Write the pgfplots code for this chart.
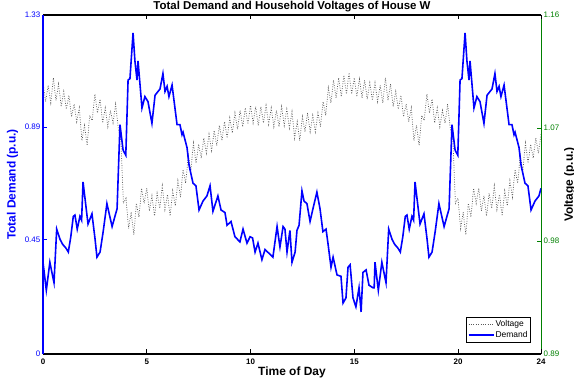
\documentclass[border=0pt]{standalone}
\usepackage{pgfplots}
\pgfplotsset{compat=1.18}
\usepackage{fontspec}
\setmainfont{Liberation Sans}

\definecolor{dmdblue}{RGB}{0,0,255}
\definecolor{voltgreen}{RGB}{0,128,0}
\definecolor{voltgray}{RGB}{90,90,90}

\pgfplotsset{
  legend image code/.code={\draw[#1] (0bp,0bp) -- (25bp,0bp);},
  voltstyle/.style={voltgray, line width=0.75pt, dash pattern=on 0.8pt off 1.6pt},
  dmdstyle/.style={dmdblue, line width=1.6pt},
}

\begin{document}
\begin{tikzpicture}
% Voltage axis (right)
\begin{axis}[
  scale only axis, width=498bp, height=339bp,
  xmin=0, xmax=24, ymin=0.89, ymax=1.16,
  axis x line=none, axis y line*=right,
  y axis line style={voltgreen, line width=1pt, -},
  ytick={0.89,0.98,1.07,1.16},
  yticklabels={0.89,0.98,1.07,1.16},
  yticklabel style={voltgreen, font=\fontsize{8}{9}\selectfont, inner sep=2.5bp},
  ytick style={voltgreen, line width=0.8pt},
  major tick length=4.5bp, tick align=inside,
  ylabel={\bfseries Voltage (p.u.)},
  ylabel style={at={(axis description cs:1.058,0.5)}, anchor=center, inner sep=0pt, black, font=\fontsize{12}{14}\selectfont},
]
\addplot[voltstyle] coordinates {
(0.000,1.106)(0.125,1.091)(0.250,1.104)(0.375,1.090)(0.500,1.110)(0.625,1.092)(0.750,1.105)(0.875,1.087)
(1.000,1.099)(1.125,1.085)(1.250,1.096)(1.375,1.079)(1.500,1.089)(1.625,1.075)(1.750,1.086)(1.875,1.060)
(2.000,1.072)(2.125,1.056)(2.250,1.080)(2.375,1.076)(2.500,1.097)(2.625,1.082)(2.750,1.093)(2.875,1.074)
(3.000,1.086)(3.125,1.071)(3.250,1.084)(3.375,1.074)(3.500,1.089)(3.625,1.070)(3.750,1.062)(3.875,1.010)
(4.000,1.014)(4.125,0.990)(4.250,1.003)(4.375,0.985)(4.500,1.010)(4.625,0.999)(4.750,1.022)(4.875,1.010)
(5.000,1.022)(5.125,1.004)(5.250,1.016)(5.375,1.000)(5.500,1.018)(5.625,1.006)(5.750,1.024)(5.875,1.005)
(6.000,1.017)(6.125,1.000)(6.250,1.020)(6.375,1.008)(6.500,1.028)(6.625,1.015)(6.750,1.037)(6.875,1.026)
(7.000,1.048)(7.125,1.036)(7.250,1.058)(7.375,1.042)(7.500,1.057)(7.625,1.046)(7.750,1.062)(7.875,1.050)
(8.000,1.065)(8.125,1.052)(8.250,1.068)(8.375,1.056)(8.500,1.072)(8.625,1.060)(8.750,1.075)(8.875,1.062)
(9.000,1.078)(9.125,1.066)(9.250,1.082)(9.375,1.069)(9.500,1.084)(9.625,1.071)(9.750,1.086)(9.875,1.073)
(10.000,1.088)(10.125,1.074)(10.250,1.087)(10.375,1.072)(10.500,1.087)(10.625,1.074)(10.750,1.088)(10.875,1.073)
(11.000,1.086)(11.125,1.071)(11.250,1.084)(11.375,1.071)(11.500,1.087)(11.625,1.072)(11.750,1.085)(11.875,1.070)
(12.000,1.083)(12.125,1.062)(12.250,1.075)(12.375,1.060)(12.500,1.079)(12.625,1.067)(12.750,1.082)(12.875,1.067)
(13.000,1.080)(13.125,1.067)(13.250,1.082)(13.375,1.071)(13.500,1.091)(13.625,1.080)(13.750,1.102)(13.875,1.090)
(14.000,1.108)(14.125,1.094)(14.250,1.110)(14.375,1.095)(14.500,1.112)(14.625,1.097)(14.750,1.114)(14.875,1.097)
(15.000,1.110)(15.125,1.095)(15.250,1.109)(15.375,1.094)(15.500,1.108)(15.625,1.093)(15.750,1.106)(15.875,1.092)
(16.000,1.106)(16.125,1.091)(16.250,1.104)(16.375,1.090)(16.500,1.110)(16.625,1.092)(16.750,1.105)(16.875,1.087)
(17.000,1.099)(17.125,1.085)(17.250,1.096)(17.375,1.079)(17.500,1.089)(17.625,1.075)(17.750,1.086)(17.875,1.060)
(18.000,1.072)(18.125,1.056)(18.250,1.080)(18.375,1.076)(18.500,1.097)(18.625,1.082)(18.750,1.093)(18.875,1.074)
(19.000,1.086)(19.125,1.071)(19.250,1.084)(19.375,1.074)(19.500,1.089)(19.625,1.070)(19.750,1.062)(19.875,1.010)
(20.000,1.014)(20.125,0.990)(20.250,1.003)(20.375,0.985)(20.500,1.010)(20.625,0.999)(20.750,1.022)(20.875,1.010)
(21.000,1.022)(21.125,1.004)(21.250,1.016)(21.375,1.000)(21.500,1.018)(21.625,1.006)(21.750,1.024)(21.875,1.005)
(22.000,1.017)(22.125,1.000)(22.250,1.020)(22.375,1.008)(22.500,1.028)(22.625,1.015)(22.750,1.037)(22.875,1.026)
(23.000,1.048)(23.125,1.036)(23.250,1.058)(23.375,1.042)(23.500,1.057)(23.625,1.046)(23.750,1.062)(23.875,1.050)
(24.000,1.065)
};
\end{axis}

% Demand axis (left) with frame, title and legend
\begin{axis}[
  name=dem,
  scale only axis, width=498bp, height=339bp,
  xmin=0, xmax=24, ymin=0, ymax=1.33,
  axis x line=box, axis y line*=left,
  x axis line style={black, line width=1.1pt, -},
  y axis line style={dmdblue, line width=1.1pt, -},
  xtick={0,5,10,15,20,24},
  xticklabels={0,5,10,15,20,24},
  xticklabel style={font=\bfseries\fontsize{8}{9}\selectfont, anchor=base, yshift=-10bp},
  xtick style={black, line width=0.8pt},
  ytick={0,0.45,0.89,1.33},
  yticklabels={0,0.45,0.89,1.33},
  yticklabel style={dmdblue, font=\fontsize{8}{9}\selectfont, inner sep=2.5bp},
  ytick style={dmdblue, line width=0.8pt},
  major tick length=4.5bp, tick align=inside,
  title={\bfseries Total Demand and Household Voltages of House W},
  title style={at={(axis description cs:0.5,1)}, anchor=base, yshift=-0.5bp, inner sep=0pt, font=\fontsize{11.5}{14}\selectfont},
  xlabel={\bfseries Time of Day},
  xlabel style={at={(axis description cs:0.5,0)}, anchor=base, yshift=-21.5bp, inner sep=0pt, font=\fontsize{12}{14}\selectfont},
  ylabel={\bfseries Total Demand (p.u.)},
  ylabel style={at={(axis description cs:-0.061,0.5)}, anchor=center, inner sep=0pt, dmdblue, font=\fontsize{12}{14}\selectfont},
  legend style={at={(axis description cs:1,0)}, anchor=south east, xshift=-10bp, yshift=11.5bp,
    draw=black, line width=0.9pt, inner sep=1.8bp, row sep=0.8bp,
    nodes={inner sep=1.2bp},
    font=\fontsize{8.5}{9.5}\selectfont, legend cell align=left},
]
\addlegendimage{voltstyle}
\addlegendentry{Voltage}
\addplot[dmdstyle] coordinates {
(0.00,0.36)(0.16,0.25)(0.33,0.36)(0.53,0.28)(0.66,0.49)(0.82,0.45)(0.95,0.43)(1.11,0.415)
(1.22,0.40)(1.34,0.46)(1.46,0.54)(1.54,0.545)(1.65,0.49)(1.78,0.54)(1.86,0.525)(1.93,0.675)
(2.17,0.51)(2.36,0.55)(2.51,0.45)(2.60,0.38)(2.75,0.40)(2.90,0.48)(3.08,0.59)(3.33,0.50)
(3.57,0.57)(3.71,0.90)(3.86,0.80)(3.99,0.78)(4.10,1.075)(4.19,1.08)(4.34,1.26)(4.43,1.15)
(4.53,1.075)(4.58,1.15)(4.77,0.965)(4.91,1.01)(5.06,0.99)(5.25,0.905)(5.40,1.015)(5.64,1.04)
(5.78,1.10)(5.88,1.03)(5.98,1.05)(6.07,1.01)(6.22,1.055)(6.46,0.90)(6.60,0.90)(6.70,0.86)
(6.75,0.87)(6.94,0.81)(7.04,0.74)(7.23,0.67)(7.37,0.66)(7.52,0.565)(7.71,0.60)(7.90,0.62)
(8.05,0.66)(8.19,0.56)(8.43,0.62)(8.58,0.565)(8.77,0.555)(8.87,0.505)(9.06,0.52)(9.25,0.46)
(9.37,0.45)(9.49,0.44)(9.64,0.49)(9.83,0.435)(9.98,0.46)(10.10,0.455)(10.22,0.40)(10.36,0.435)
(10.55,0.37)(10.70,0.41)(11.08,0.38)(11.28,0.50)(11.42,0.42)(11.57,0.50)(11.66,0.49)(11.76,0.40)
(11.90,0.485)(12.00,0.36)(12.15,0.40)(12.24,0.485)(12.34,0.505)(12.48,0.64)(12.58,0.60)(12.72,0.59)
(12.87,0.52)(13.01,0.57)(13.20,0.635)(13.35,0.57)(13.49,0.48)(13.64,0.49)(13.74,0.43)(13.88,0.34)
(13.98,0.38)(14.17,0.31)(14.36,0.305)(14.46,0.20)(14.60,0.22)(14.70,0.34)(14.80,0.35)(14.94,0.22)
(15.08,0.185)(15.23,0.26)(15.33,0.165)(15.42,0.32)(15.57,0.33)(15.71,0.27)(15.90,0.26)(15.96,0.26)
(16.00,0.36)(16.16,0.25)(16.33,0.36)(16.53,0.28)(16.66,0.49)(16.82,0.45)(16.95,0.43)(17.11,0.415)
(17.22,0.40)(17.34,0.46)(17.46,0.54)(17.54,0.545)(17.65,0.49)(17.78,0.54)(17.86,0.525)(17.93,0.675)
(18.17,0.51)(18.36,0.55)(18.51,0.45)(18.60,0.38)(18.75,0.40)(18.90,0.48)(19.08,0.59)(19.33,0.50)
(19.57,0.57)(19.71,0.90)(19.86,0.80)(19.99,0.78)(20.10,1.075)(20.19,1.08)(20.34,1.26)(20.43,1.15)
(20.53,1.075)(20.58,1.15)(20.77,0.965)(20.91,1.01)(21.06,0.99)(21.25,0.905)(21.40,1.015)(21.64,1.04)
(21.78,1.10)(21.88,1.03)(21.98,1.05)(22.07,1.01)(22.22,1.055)(22.46,0.90)(22.60,0.90)(22.70,0.86)
(22.75,0.87)(22.94,0.81)(23.04,0.74)(23.23,0.67)(23.37,0.66)(23.52,0.565)(23.71,0.60)(23.90,0.62)
(24.00,0.65)
};
\addlegendentry{Demand}
\end{axis}
% Page extent around the plotting area
\pgfresetboundingbox
\path ([shift={(-43bp,-31bp)}]dem.south west) rectangle ([shift={(33bp,15bp)}]dem.north east);
\end{tikzpicture}
\end{document}
